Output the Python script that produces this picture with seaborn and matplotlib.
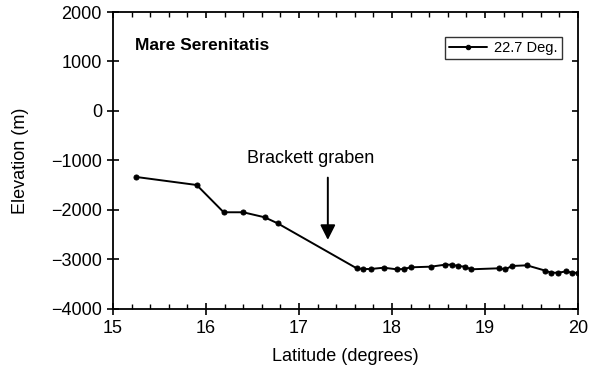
import matplotlib
matplotlib.use("Agg")
import matplotlib.pyplot as plt
from matplotlib.ticker import MultipleLocator
import seaborn as sns
import pandas as pd

latitude = [15.25, 15.90, 16.19, 16.40, 16.63, 16.77,
            17.62, 17.69, 17.77, 17.91, 18.05, 18.13, 18.20, 18.42,
            18.57, 18.64, 18.71, 18.78, 18.85, 19.15, 19.22, 19.29,
            19.45, 19.65, 19.71, 19.79, 19.87, 19.94, 20.0]
elevation = [-1333, -1495, -2046, -2046, -2147, -2269,
             -3178, -3192, -3192, -3166, -3198, -3192, -3158, -3145,
             -3105, -3105, -3131, -3145, -3198, -3178, -3198, -3131,
             -3118, -3226, -3267, -3267, -3240, -3267, -3270]
series_label = "22.7 Deg."
title_text = "Mare Serenitatis"
annotation_text = "Brackett graben"
x_ticks = [15, 16, 17, 18, 19, 20]
y_ticks = [-4000, -3000, -2000, -1000, 0, 1000, 2000]

df = pd.DataFrame({"Latitude": latitude, "Elevation": elevation,
                   "Series": series_label})

sns.set_theme(style="ticks")
plt.rcParams["font.family"] = ["Liberation Sans", "DejaVu Sans"]
plt.rcParams["axes.linewidth"] = 1.3
plt.rcParams["text.color"] = "black"
plt.rcParams["axes.labelcolor"] = "black"
plt.rcParams["xtick.color"] = "black"
plt.rcParams["ytick.color"] = "black"

fig = plt.figure(figsize=(5.91, 3.81), dpi=100)
ax = fig.add_axes([0.1912, 0.189, 0.978 - 0.1912, 0.9685 - 0.189])

sns.lineplot(data=df, x="Latitude", y="Elevation", hue="Series",
             palette=["black"], marker="o", markersize=3.6,
             markeredgecolor="black", linewidth=1.4, ax=ax,
             estimator=None, sort=False)

ax.set_xlim(15, 20)
ax.set_ylim(-4000, 2000)
ax.set_xticks(x_ticks)
ax.set_yticks(y_ticks)
ax.set_yticklabels([f"{v}".replace("-", "\u2212") for v in y_ticks])
ax.xaxis.set_minor_locator(MultipleLocator(0.2))

ax.tick_params(axis="both", which="major", direction="inout", length=8,
               width=1.2, labelsize=13, colors="black", pad=4)
ax.tick_params(axis="x", which="minor", direction="in", length=3.5,
               width=1.0, top=True, bottom=True, colors="black")
ax.tick_params(axis="x", which="major", top=True, labeltop=False)
ax.tick_params(axis="y", which="major", right=True)
for t in ax.xaxis.get_major_ticks():
    t.tick2line.set_markersize(4)
    t.tick2line.set_marker(matplotlib.lines.TICKDOWN)
for t in ax.yaxis.get_major_ticks():
    t.tick2line.set_markersize(4)
    t.tick2line.set_marker(matplotlib.lines.TICKLEFT)

for s in ax.spines.values():
    s.set_visible(True)
    s.set_color("black")

ax.set_xlabel("Latitude (degrees)", fontsize=13, labelpad=8, color="black")
ax.set_ylabel("Elevation (m)", fontsize=13, labelpad=16, color="black")

ax.text(15.24, 1330, title_text, fontsize=12.5, fontweight="bold",
        ha="left", va="center", color="black")
ax.text(17.13, -950, annotation_text, fontsize=13, ha="center", va="center",
        color="black")
ax.annotate("", xy=(17.31, -2660), xytext=(17.31, -1290),
            arrowprops=dict(arrowstyle="-|>,head_length=0.75,head_width=0.38",
                            color="black", lw=1.4))

leg = ax.legend(loc="upper right", bbox_to_anchor=(0.966, 0.917),
                fontsize=10.5, frameon=True, fancybox=False,
                handlelength=2.6, borderpad=0.3, handletextpad=0.5,
                borderaxespad=0)
leg.get_frame().set_edgecolor("black")
leg.get_frame().set_linewidth(1.0)
leg.set_title(None)
for h in leg.legend_handles:
    h.set_markersize(3.2)
for txt in leg.get_texts():
    txt.set_color("black")

fig.savefig("out.png", dpi=100)
